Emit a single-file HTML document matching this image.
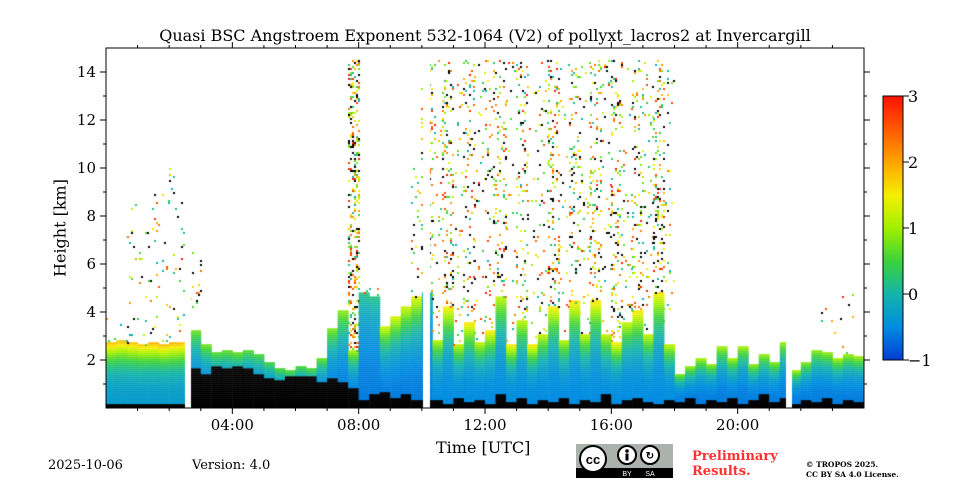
<!DOCTYPE html>
<html><head><meta charset="utf-8"><style>
body{margin:0;background:#fff;width:960px;height:480px;overflow:hidden;position:relative;font-family:"DejaVu Serif","Liberation Serif",serif;}
.t{position:absolute;white-space:nowrap;color:#000}
canvas{position:absolute}
</style></head><body>
<div class="t" style="left:0;width:970px;text-align:center;top:26px;font-size:16px">Quasi BSC Angstroem Exponent 532-1064 (V2) of pollyxt_lacros2 at Invercargill</div>
<canvas id="hm" width="758" height="360" style="left:106px;top:48px"></canvas>
<canvas id="cb" width="20" height="264" style="left:883px;top:96px"></canvas>
<svg id="ax" width="960" height="480" style="position:absolute;left:0;top:0"></svg>
<div class="t" style="left:436px;top:438px;font-size:16px">Time [UTC]</div>
<div class="t" style="left:60px;top:228px;font-size:16px;transform:translate(-50%,-50%) rotate(-90deg)">Height [km]</div>
<div class="t" style="left:48px;top:458px;font-size:13px">2025-10-06</div>
<div class="t" style="left:192px;top:458px;font-size:13px">Version: 4.0</div>
<svg width="97" height="34" style="position:absolute;left:576px;top:444px">
<rect width="97" height="34" fill="#aab2ab"/><rect y="24" width="97" height="10" fill="#000"/>
<circle cx="17" cy="15" r="13" fill="#fff" stroke="#000" stroke-width="2"/><text x="17" y="20" font-size="13" font-weight="bold" text-anchor="middle" font-family="Liberation Sans">cc</text>
<circle cx="51" cy="11" r="9" fill="#fff" stroke="#000" stroke-width="2"/><circle cx="51" cy="7" r="1.8"/><rect x="49.5" y="9.5" width="3" height="7"/>
<circle cx="74" cy="11" r="9" fill="#fff" stroke="#000" stroke-width="2"/><text x="74" y="15" font-size="10" font-weight="bold" text-anchor="middle" font-family="Liberation Sans">↻</text>
<text x="51" y="32" font-size="7" fill="#fff" text-anchor="middle" font-family="Liberation Sans">BY</text><text x="74" y="32" font-size="7" fill="#fff" text-anchor="middle" font-family="Liberation Sans">SA</text></svg>
<div class="t" style="left:692px;top:449px;font-size:13px;font-weight:bold;color:#ff3030;line-height:15px">Preliminary<br>Results.</div>
<div class="t" style="left:806px;top:460px;font-size:7.5px;font-weight:bold;line-height:10px">© TROPOS 2025.<br>CC BY SA 4.0 License.</div>
<script>
// 20-minute bins, 0..24 h
const layerTop=[2.7,2.8,2.7,2.6,2.7,2.6,2.7,2.7,3.2,2.6,2.3,2.4,2.3,2.4,2.2,1.9,1.6,1.5,1.7,1.6,2.0,3.3,4.0,2.4,4.8,4.6,3.4,3.8,4.2,4.6,4.8,2.8,4.2,2.6,3.5,2.7,3.2,4.6,2.6,3.6,2.6,3.0,4.2,2.8,4.4,3.0,4.4,3.0,2.7,3.5,4.0,3.0,4.8,2.6,1.4,1.7,2.0,1.8,2.5,2.0,2.5,1.8,2.2,1.9,2.7,1.5,1.9,2.4,2.3,2.0,2.2,2.1];
const blackTop=[0.15,0.15,0.15,0.15,0.15,0.15,0.15,0.15,1.6,1.4,1.7,1.6,1.7,1.6,1.4,1.2,1.1,1.3,1.3,1.3,1.0,1.2,1.0,0.8,0.3,0.5,0.6,0.4,0.5,0.3,0.3,0.3,0.1,0.4,0.2,0.3,0.1,0.5,0.2,0.4,0.1,0.3,0.2,0.4,0.1,0.3,0.2,0.5,0.1,0.3,0.4,0.2,0.1,0.3,0.2,0.4,0.1,0.3,0.2,0.4,0.1,0.3,0.5,0.2,0.4,0.1,0.3,0.2,0.4,0.1,0.3,0.2];
const aeTop=[1.9,2.0,1.9,1.8,2.0,1.9,2.0,1.9,0.8,0.8,0.7,0.8,0.8,0.7,0.6,0.6,0.6,0.6,0.6,0.6,0.7,0.9,0.9,1.2,0.2,0.2,1.4,1.4,1.3,1.4,0.0,1.2,1.6,1.2,1.6,1.2,1.6,1.2,1.6,1.2,1.6,1.2,1.6,1.2,1.6,1.2,1.6,1.2,1.6,1.2,1.6,1.2,1.6,1.2,1.0,1.0,1.0,1.0,1.0,1.0,1.0,1.0,1.0,1.0,1.0,1.0,1.0,1.0,1.0,1.0,1.0,1.0];
const aeBase=[-0.3,-0.3,-0.3,-0.3,-0.3,-0.3,-0.3,-0.3,-0.6,-0.6,-0.6,-0.6,-0.6,-0.6,-0.6,-0.6,-0.6,-0.6,-0.6,-0.6,-0.6,-0.6,-0.6,-0.6,-0.6,-0.6,-0.6,-0.6,-0.6,-0.6,-0.6,-0.5,-0.5,-0.5,-0.5,-0.5,-0.5,-0.5,-0.5,-0.5,-0.5,-0.5,-0.5,-0.5,-0.5,-0.5,-0.5,-0.5,-0.5,-0.5,-0.5,-0.5,-0.5,-0.5,-0.6,-0.6,-0.6,-0.6,-0.6,-0.6,-0.6,-0.6,-0.6,-0.6,-0.6,-0.6,-0.6,-0.6,-0.6,-0.6,-0.6,-0.6];
const noiseTop=[4,4,9,9,9,9,10,10,7,0,0,0,0,0,0,0,0,0,0,0,0,0,0,14.5,5,5,0,0,0,10,14.5,14.5,14.5,14.5,14.5,14.5,14.5,14.5,14.5,14.5,14.5,14.5,14.5,14.5,14.5,14.5,14.5,14.5,14.5,14.5,14.5,14.5,14.5,14.5,0,0,0,0,0,0,0,0,0,0,0,0,0,0,5,5,5,0];
const noiseDensity=[0.05,0.05,0.04,0.04,0.04,0.04,0.05,0.05,0.05,0,0,0,0,0,0,0,0,0,0,0,0,0,0,0.3,0.08,0.08,0,0,0,0.06,0.18,0.05,0.14,0.04,0.13,0.04,0.1,0.12,0.03,0.12,0.04,0.06,0.18,0.03,0.12,0.05,0.16,0.04,0.14,0.06,0.12,0.05,0.16,0.04,0,0,0,0,0,0,0,0,0,0,0,0,0,0,0.02,0.02,0.02,0];
const gapStart=[2.5,10.05,21.52];
const gapEnd=[2.7,10.25,21.72];
const binHours=1/3;
const xTicks=[4,8,12,16,20];
const xTickLabels=["04:00","08:00","12:00","16:00","20:00"];
const yTicks=[2,4,6,8,10,12,14];
const cbTicks=[-1,0,1,2,3];

const X0=106,X1=864,Y0=408,Y1=48;
const xs=h=>X0+h*(X1-X0)/24;
const ys=k=>Y0-k*(Y0-Y1)/15;
const stops=[[-1,[0,60,210]],[-0.5,[0,140,225]],[0,[20,180,170]],[0.5,[60,210,60]],[1,[160,240,0]],[1.5,[245,240,0]],[2,[255,165,0]],[2.5,[255,90,0]],[3,[255,20,0]]];
function cmap(v){v=Math.max(-1,Math.min(3,v));for(let i=0;i<stops.length-1;i++){const[a,ca]=stops[i],[b,cb]=stops[i+1];if(v<=b){const f=(v-a)/(b-a);return`rgb(${ca.map((c,j)=>Math.round(c+(cb[j]-c)*f)).join(',')})`;}}return'rgb(255,20,0)';}
function hsh(a,b){let n=(a*374761393+b*668265263)|0;n=(n^(n>>>13))*1274126177|0;return((n^(n>>>16))>>>0)/4294967296;}

const hm=document.getElementById('hm').getContext('2d');
const ox=X0,oy=Y1,pxH=2;
for(let i=0;i<layerTop.length;i++){
  const xa=xs(i*binHours)-ox,xb=xs((i+1)*binHours)-ox;
  for(let h=0;h<layerTop[i];h+=0.083){
    const f=h/layerTop[i];
    hm.fillStyle=h<blackTop[i]?'#000':cmap(aeBase[i]+(aeTop[i]-aeBase[i])*Math.pow(f,3));
    hm.fillRect(xa,ys(h+0.083)-oy,xb-xa+0.5,pxH+0.1);
  }
  if(noiseTop[i]>0){
    for(let px=Math.floor(xa);px<xb;px+=2){
      for(let py=ys(noiseTop[i])-oy;py<ys(layerTop[i])-oy;py+=2){
        const r=hsh(px,Math.round(py));
        if(r<noiseDensity[i]){const r2=hsh(Math.round(py),px);
          hm.fillStyle=r2<0.2?'#000':cmap(-1+r2*4);hm.fillRect(px,py,2,2);}
      }
    }
  }
}
for(let g=0;g<gapStart.length;g++){hm.clearRect(xs(gapStart[g])-ox,0,xs(gapEnd[g])-xs(gapStart[g]),360);}

const cb=document.getElementById('cb').getContext('2d');
for(let y=0;y<264;y++){cb.fillStyle=cmap(3-4*y/264);cb.fillRect(0,y,20,1);}

const ns='http://www.w3.org/2000/svg',ax=document.getElementById('ax');
function el(t,a,txt){const e=document.createElementNS(ns,t);for(const k in a)e.setAttribute(k,a[k]);if(txt!==undefined)e.textContent=txt;ax.appendChild(e);return e;}
const frame=el('rect',{x:X0,y:Y1,width:X1-X0,height:Y0-Y1,fill:'none',stroke:'#000','stroke-width':1});


for(let h=1;h<24;h++){
  const major=xTicks.includes(h),L=major?6:3,x=xs(h);
  const tb=el('line',{x1:x,x2:x,y1:Y0,y2:Y0+L,stroke:'#000'});
  
  
  const tt=el('line',{x1:x,x2:x,y1:Y1,y2:Y1-L,stroke:'#000'});
  
  
}
xTicks.forEach((h,i)=>{const t=el('text',{x:xs(h),y:430,'text-anchor':'middle','font-size':15,'font-family':'DejaVu Serif, Liberation Serif, serif'},xTickLabels[i]);
  
  });
for(let k=1;k<15;k++){
  const major=yTicks.includes(k),L=major?6:3,y=ys(k);
  const a=el('line',{x1:X0-L,x2:X0,y1:y,y2:y,stroke:'#000'});
  
  
  const b=el('line',{x1:X1,x2:X1+L,y1:y,y2:y,stroke:'#000'});
  
  
}
yTicks.forEach(k=>{const t=el('text',{x:96,y:ys(k)+5,'text-anchor':'end','font-size':15,'font-family':'DejaVu Serif, Liberation Serif, serif'},k);
  
  });
el('rect',{x:883,y:96,width:20,height:264,fill:'none',stroke:'#000'});
cbTicks.forEach(v=>{const y=96+(3-v)*66;
  const l=el('line',{x1:903,x2:909,y1:y,y2:y,stroke:'#000'});
  
  
  const t=el('text',{x:908,y:y+6,'font-size':16,'font-family':'DejaVu Serif, Liberation Serif, serif'},v===-1?'−1':v);
  
  });
</script>
</body></html>
